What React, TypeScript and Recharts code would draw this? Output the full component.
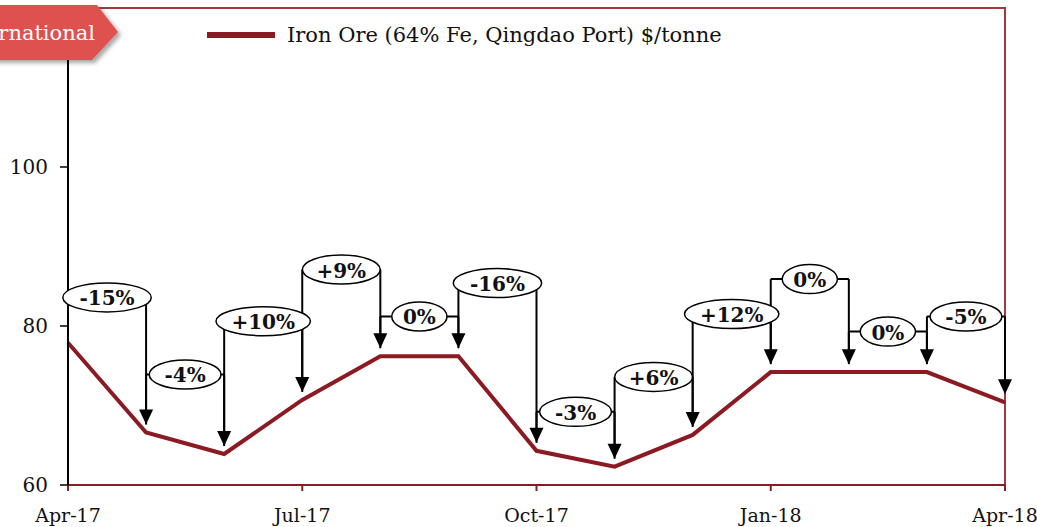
import React from 'react';
import { LineChart, Line, XAxis, YAxis, ReferenceLine, ReferenceDot, ReferenceArea, Legend } from 'recharts';

const months = ['Apr-17', 'May-17', 'Jun-17', 'Jul-17', 'Aug-17', 'Sep-17', 'Oct-17', 'Nov-17', 'Dec-17', 'Jan-18', 'Feb-18', 'Mar-18', 'Apr-18'];
const prices = [77.9, 66.6, 63.9, 70.7, 76.2, 76.2, 64.3, 62.3, 66.3, 74.2, 74.2, 74.2, 70.4];
const changeLabels = ['-15%', '-4%', '+10%', '+9%', '0%', '-16%', '-3%', '+6%', '+12%', '0%', '0%', '-5%'];
const bracketLevels = [83.6, 73.9, 80.6, 87.1, 81.2, 85.4, 69.2, 73.6, 81.5, 85.9, 79.3, 81.2];
const xTicks = [0, 3, 6, 9, 12];
const yTicks = [60, 80, 100];

const SERIES_NAME = 'Iron Ore (64% Fe, Qingdao Port) $/tonne';
const LINE_COLOR = '#8B1A22';
const BORDER_COLOR = '#A33A3C';
const FONT = '"DejaVu Serif", Georgia, serif';
const ARROW_GAP = 1.0;

const data = prices.map((p, i) => ({ idx: i, month: months[i], price: p }));

const ArrowHead = (props: any) => {
  const { cx, cy } = props;
  if (cx == null || cy == null) return null;
  return <polygon points={`${cx - 7},${cy - 15} ${cx + 7},${cy - 15} ${cx},${cy}`} fill="#000" />;
};

const makeLabel = (text: string) => (props: any) => {
  const { cx, cy } = props;
  if (cx == null || cy == null) return null;
  const rx = 11 + 8.3 * text.length + (text.startsWith('+') ? 3 : 0);
  return (
    <g>
      <ellipse cx={cx} cy={cy} rx={rx} ry={14.5} fill="#fff" stroke="#000" strokeWidth={1.5} />
      <text x={cx} y={cy + 1} textAnchor="middle" dominantBaseline="central" fontFamily={FONT} fontWeight="bold" fontSize={20} fill="#111">
        {text}
      </text>
    </g>
  );
};

const LegendContent = () => (
  <div style={{ display: 'flex', alignItems: 'center', fontFamily: FONT, fontSize: 21, color: '#111', whiteSpace: 'nowrap' }}>
    <span style={{ display: 'inline-block', width: 68, height: 6, background: LINE_COLOR, marginRight: 12 }} />
    <span>{SERIES_NAME}</span>
  </div>
);

export default function App() {
  const brackets = changeLabels.map((label, i) => {
    const level = bracketLevels[i];
    const base = prices[i] + ARROW_GAP;
    const tip = prices[i + 1] + ARROW_GAP;
    return { i, label, level, base, tip };
  });

  return (
    <div style={{ position: 'absolute', left: 0, top: 0, width: 1037, height: 527, background: '#fff' }}>
      <LineChart width={1037} height={527} data={data} margin={{ top: 8, right: 32, bottom: 0, left: 0 }}>
        <ReferenceArea x1={0} x2={12} y1={60} y2={120} fill="none" stroke={BORDER_COLOR} strokeWidth={2} ifOverflow="visible" />
        <XAxis
          type="number"
          dataKey="idx"
          domain={[0, 12]}
          ticks={xTicks}
          tickFormatter={(v: number) => months[v]}
          height={42}
          axisLine={{ stroke: LINE_COLOR, strokeWidth: 2 }}
          tickLine={{ stroke: LINE_COLOR, strokeWidth: 2 }}
          tickSize={6}
          tickMargin={18}
          tick={{ fill: '#111', fontSize: 19, fontFamily: FONT }}
        />
        <YAxis
          type="number"
          domain={[60, 120]}
          ticks={yTicks}
          width={68}
          axisLine={{ stroke: '#000', strokeWidth: 2 }}
          tickLine={{ stroke: '#000', strokeWidth: 1.5 }}
          tickSize={8}
          tickMargin={12}
          tick={{ fill: '#111', fontSize: 20, fontFamily: FONT }}
        />
        <Legend
          layout="horizontal"
          verticalAlign="middle"
          align="center"
          wrapperStyle={{ position: 'absolute', top: 23, left: 207, width: 'auto' }}
          content={<LegendContent />}
        />
        <Line type="linear" dataKey="price" name={SERIES_NAME} stroke={LINE_COLOR} strokeWidth={4} dot={false} isAnimationActive={false} />
        {brackets.map((b) => (
          <ReferenceLine key={`l${b.i}`} segment={[{ x: b.i, y: b.base }, { x: b.i, y: b.level }]} stroke="#000" strokeWidth={2} />
        ))}
        {brackets.map((b) => (
          <ReferenceLine key={`h${b.i}`} segment={[{ x: b.i, y: b.level }, { x: b.i + 1, y: b.level }]} stroke="#000" strokeWidth={2} />
        ))}
        {brackets.map((b) => (
          <ReferenceLine key={`r${b.i}`} segment={[{ x: b.i + 1, y: b.level }, { x: b.i + 1, y: b.tip + 1 }]} stroke="#000" strokeWidth={2} />
        ))}
        {brackets.map((b) => (
          <ReferenceDot key={`a${b.i}`} x={b.i + 1} y={b.tip} r={1} shape={ArrowHead} />
        ))}
        {brackets.map((b) => (
          <ReferenceDot key={`t${b.i}`} x={b.i + 0.5} y={b.level} r={1} shape={makeLabel(b.label)} />
        ))}
      </LineChart>
      <svg width={140} height={75} style={{ position: 'absolute', left: 0, top: 0 }}>
        <defs>
          <filter id="tagShadow" x="-20%" y="-20%" width="150%" height="160%">
            <feDropShadow dx={3} dy={3} stdDeviation={2} floodColor="#000" floodOpacity={0.35} />
          </filter>
        </defs>
        <polygon points="-10,5 97,5 118,32 92,60 -10,60" fill="#DF5150" filter="url(#tagShadow)" />
        <text x={95} y={40} textAnchor="end" fontFamily={FONT} fontSize={21} fill="#fff">International</text>
      </svg>
    </div>
  );
}
